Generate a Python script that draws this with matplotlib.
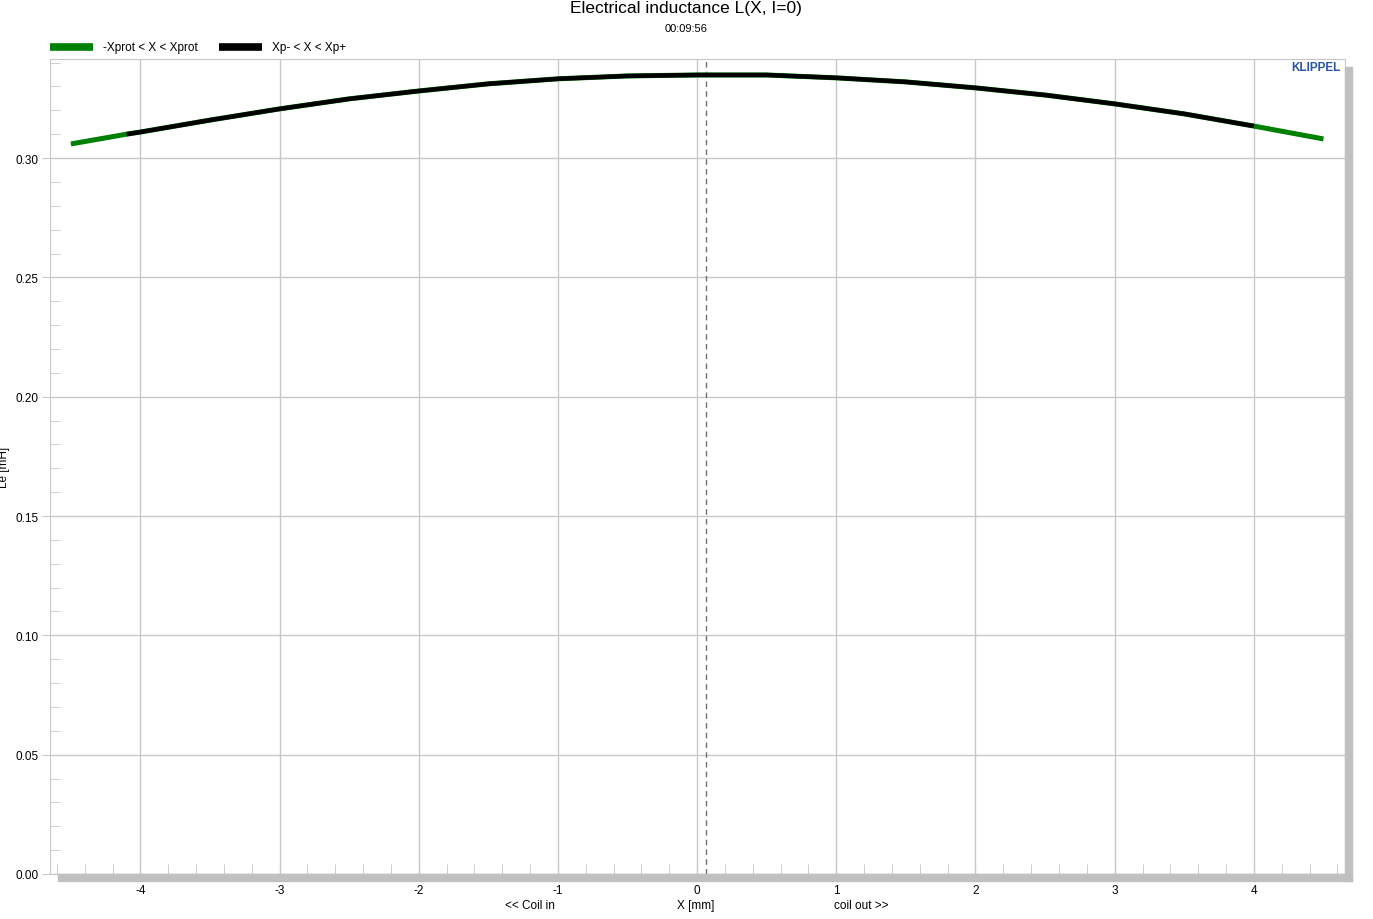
import numpy as np
import matplotlib.pyplot as plt
from matplotlib.patches import Rectangle
from matplotlib.ticker import MultipleLocator, FormatStrFormatter

plt.rcParams['font.family'] = ['Liberation Sans', 'DejaVu Sans']
plt.rcParams['axes.unicode_minus'] = False

# displacement [mm] and inductance Le [mH]
x_mm = [-4.5, -4.1, -4.0, -3.5, -3.0, -2.5, -2.0, -1.5, -1.0, -0.5, 0.0,
        0.5, 1.0, 1.5, 2.0, 2.5, 3.0, 3.5, 4.0, 4.5]
le_mh = [0.3059, 0.3100, 0.3109, 0.3159, 0.3206, 0.3248, 0.3281, 0.3311, 0.3332, 0.3344, 0.3348,
         0.3348, 0.3336, 0.3319, 0.3294, 0.3264, 0.3227, 0.3185, 0.3134, 0.3080]
xp_minus = -4.1
xp_plus = 4.0
x_rest = 0.065

W, H = 1373, 920
fig = plt.figure(figsize=(W/100, H/100), dpi=100)
L, R, T, B = 50, 1345, 60, 875
ax = fig.add_axes([L/W, (H-B)/H, (R-L)/W, (B-T)/H])

xs = np.array(x_mm)
ys = np.array(le_mh)
ax.plot(xs, ys, color='#008000', lw=3.6, solid_capstyle='butt', solid_joinstyle='round', zorder=3)
m = (xs >= xp_minus) & (xs <= xp_plus)
ax.plot(xs[m], ys[m], color='black', lw=3.2, solid_capstyle='butt', solid_joinstyle='round', zorder=4)
ax.axvline(x_rest, color='#707070', lw=1, ls=(0, (4, 3)), zorder=2)

ax.set_xlim(-4.65, 4.655)
ax.set_ylim(0, 0.3415)
ax.xaxis.set_major_locator(MultipleLocator(1))
ax.xaxis.set_minor_locator(MultipleLocator(0.2))
ax.yaxis.set_major_locator(MultipleLocator(0.05))
ax.yaxis.set_minor_locator(MultipleLocator(0.01))
ax.yaxis.set_major_formatter(FormatStrFormatter('%.2f'))
ax.grid(True, which='major', color='#c8c8c8', lw=1)
for s in ax.spines.values():
    s.set_color('#c8c8c8')
ax.tick_params(axis='x', which='both', direction='in', length=7, color='#c8c8c8',
               labelsize=8.5, pad=7)
ax.tick_params(axis='y', which='minor', direction='in', length=7, color='#c8c8c8')
ax.tick_params(axis='y', which='major', direction='out', length=6, color='#c8c8c8',
               labelsize=8.5, pad=2)

# drop shadow
fig.patches.append(Rectangle((58/W, (H-882)/H), (1352-58)/W, 7/H,
                             transform=fig.transFigure, color='#c0c0c0', zorder=0))
fig.patches.append(Rectangle((1345/W, (H-882)/H), 7/W, (882-68)/H,
                             transform=fig.transFigure, color='#c0c0c0', zorder=0))

fig.text(686/W, 1-9/H, 'Electrical inductance L(X, I=0)', ha='center', va='center', fontsize=12.5)
fig.text(686/W, 1-29/H, '00:09:56', ha='center', va='center', fontsize=8)
fig.text(696/W, 1-906/H, 'X [mm]', ha='center', va='center', fontsize=8.5)
fig.text(530/W, 1-906/H, '<< Coil in', ha='center', va='center', fontsize=8.5)
fig.text(861/W, 1-906/H, 'coil out >>', ha='center', va='center', fontsize=8.5)
fig.text(4/W, 1-467/H, 'Le [mH]', ha='center', va='center', rotation=90, fontsize=8.5)
fig.text(1341/W, 1-68/H, 'KLIPPEL', ha='right', va='center', fontsize=8.5,
         fontweight='bold', color='#2a55a5')

# legend
fig.add_artist(plt.Line2D([50/W, 93/W], [1-48/H]*2, color='#008000', lw=5.5,
                          solid_capstyle='butt'))
fig.text(103/W, 1-48/H, '-Xprot < X < Xprot', va='center', fontsize=8.5)
fig.add_artist(plt.Line2D([219/W, 262/W], [1-48/H]*2, color='black', lw=5.5,
                          solid_capstyle='butt'))
fig.text(272/W, 1-48/H, 'Xp- < X < Xp+', va='center', fontsize=8.5)

fig.savefig('out.png', dpi=100)
